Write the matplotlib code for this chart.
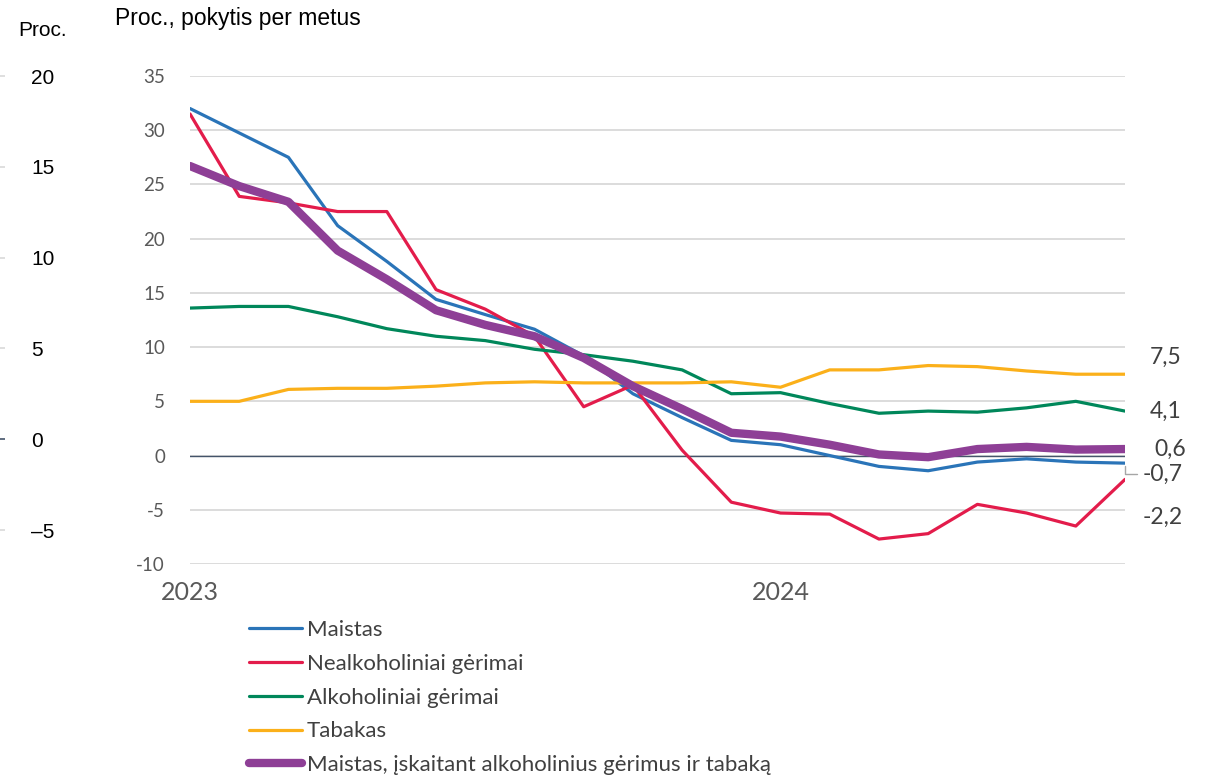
import matplotlib.pyplot as plt
import numpy as np

# monthly data, Jan 2023 - Aug 2024
months = np.arange(20)
maistas = [32.0, 29.75, 27.5, 21.2, 17.9, 14.4, 13.0, 11.65, 9.2, 5.7,
           3.5, 1.4, 1.0, 0.0, -1.0, -1.4, -0.6, -0.3, -0.6, -0.7]
nealk = [31.5, 23.9, 23.3, 22.5, 22.5, 15.3, 13.5, 11.0, 4.5, 6.5,
         0.5, -4.3, -5.3, -5.4, -7.7, -7.2, -4.5, -5.3, -6.5, -2.2]
alk = [13.6, 13.75, 13.75, 12.8, 11.7, 11.0, 10.6, 9.8, 9.3, 8.7,
       7.9, 5.7, 5.8, 4.8, 3.9, 4.1, 4.0, 4.4, 5.0, 4.1]
tabakas = [5.0, 5.0, 6.1, 6.2, 6.2, 6.4, 6.7, 6.8, 6.7, 6.7,
           6.7, 6.8, 6.3, 7.9, 7.9, 8.3, 8.2, 7.8, 7.5, 7.5]
visi = [26.7, 24.85, 23.4, 18.9, 16.25, 13.4, 12.05, 11.0, 9.0, 6.4,
        4.3, 2.1, 1.75, 1.0, 0.1, -0.15, 0.6, 0.8, 0.55, 0.6]

labels = ["Maistas", "Nealkoholiniai gėrimai", "Alkoholiniai gėrimai", "Tabakas",
          "Maistas, įskaitant alkoholinius gėrimus ir tabaką"]
colors = ["#2a74b8", "#e31c4b", "#00875a", "#fbb01a", "#8e3f96"]
widths = [2.3, 2.3, 2.3, 2.3, 6.0]
end_labels = ["-0,7", "-2,2", "4,1", "7,5", "0,6"]
# label offsets in points from the last point
end_offsets = [(13, -8), (13, -27), (18, 0), (18, 12), (21, 0)]

xtick_pos = [0, 12]
xtick_lab = ["2023", "2024"]
left_ticks = [20, 15, 10, 5, 0, -5]

plt.rcParams['font.family'] = ['Lato', 'DejaVu Sans']
plt.rcParams['axes.unicode_minus'] = False
sans = ['Liberation Sans', 'DejaVu Sans']

fig = plt.figure(figsize=(12.17, 7.77), dpi=100)

# stray axis on the far left (cut off from another chart)
ax0 = fig.add_axes([0, 0.2477, 5 / 1217, 0.7012])
ax0.set_ylim(-8, 22)
ax0.set_xlim(0, 1)
ax0.set_xticks([])
ax0.set_yticks(left_ticks)
ax0.set_yticklabels(["20", "15", "10", "5", "0", "\u20135"], fontsize=15,
                    family=sans, color='black')
ax0.yaxis.tick_right()
ax0.tick_params(axis='y', length=0, pad=19)
for s in ax0.spines.values():
    s.set_visible(False)
for v in left_ticks:
    ax0.axhline(v, color='#44546a' if v == 0 else '#d9d9d9', lw=1.2)
fig.text(18 / 1217, 1 - 30 / 777, "Proc.", fontsize=15, va='center', family=sans)
fig.text(115 / 1217, 1 - 18 / 777, "Proc., pokytis per metus", fontsize=16.5,
         va='center', family=sans)

ax = fig.add_axes([190 / 1217, 213 / 777, 935 / 1217, 488 / 777])
ax.set_xlim(0, 19)
ax.set_ylim(-10, 35)
ax.set_yticks(np.arange(-10, 36, 5))
ax.yaxis.grid(True, color='#d9d9d9', lw=1.3)
ax.set_axisbelow(True)
ax.axhline(0, color='#44546a', lw=1.0, zorder=1)
for s in ax.spines.values():
    s.set_visible(False)
ax.tick_params(axis='y', length=0, pad=18, labelsize=13.5, labelcolor='#595959')
ax.set_xticks(xtick_pos)
ax.set_xticklabels(xtick_lab)
ax.tick_params(axis='x', length=0, pad=12, labelsize=18, labelcolor='#595959')

series = [maistas, nealk, alk, tabakas, visi]
handles = []
for vals, lab, c, w in zip(series, labels, colors, widths):
    h, = ax.plot(months, vals, color=c, lw=w, label=lab, solid_capstyle='round',
                 solid_joinstyle='round', zorder=3)
    handles.append(h)

for vals, txt, off in zip(series, end_labels, end_offsets):
    if txt == "-0,7":
        ax.annotate(txt, xy=(months[-1], vals[-1]), xytext=off, textcoords='offset points',
                    fontsize=16.5, color='#404040', ha='left', va='center',
                    annotation_clip=False,
                    arrowprops=dict(arrowstyle='-', color='#a6a6a6', lw=1,
                                    connectionstyle='angle,angleA=0,angleB=90,rad=0',
                                    shrinkA=2, shrinkB=2))
    else:
        ax.annotate(txt, xy=(months[-1], vals[-1]), xytext=off, textcoords='offset points',
                    fontsize=16.5, color='#404040', ha='left', va='center',
                    annotation_clip=False)

leg = fig.legend(handles=handles, labels=labels, loc='upper left',
                 bbox_to_anchor=(249 / 1217, 1 - 620 / 777), frameon=False,
                 borderaxespad=0, borderpad=0, fontsize=16, handlelength=2.4,
                 handletextpad=0.2, labelspacing=0.62, labelcolor='#404040')

plt.savefig('out.png', dpi=100)
